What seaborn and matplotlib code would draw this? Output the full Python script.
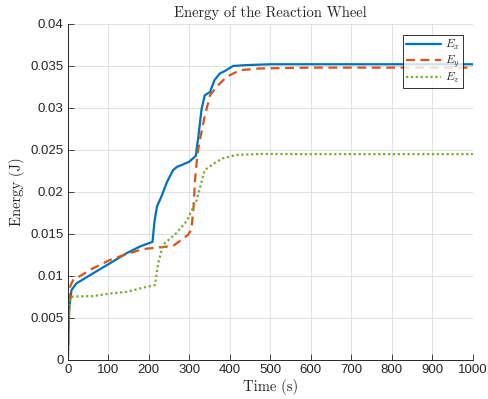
import pandas as pd
import seaborn as sns
import matplotlib.pyplot as plt

# energy of the reaction wheel

#------------- data
t_x = [0, 3, 9, 21, 62, 104, 145, 178, 209, 214, 220, 231, 245, 260, 270, 281, 300, 316, 322, 330, 338, 351, 362, 375, 388, 408, 441, 500, 700, 1000]
e_x = [0, 0.006, 0.0083, 0.0091, 0.0103, 0.0115, 0.0127, 0.0135, 0.01405, 0.0165, 0.01825, 0.01945, 0.0212, 0.0226, 0.0230, 0.0232, 0.0236, 0.0243, 0.0265, 0.0298, 0.0315, 0.0319, 0.0333, 0.0341, 0.0344, 0.035, 0.0351, 0.0352, 0.0352, 0.0352]

t_y = [0, 3, 6, 13, 62, 104, 145, 186, 227, 260, 297, 305, 310, 314, 320, 326, 338, 351, 367, 392, 425, 474, 600, 1000]
e_y = [0, 0.006, 0.0088, 0.0095, 0.0109, 0.0119, 0.0126, 0.0132, 0.0134, 0.01357, 0.0149, 0.0155, 0.018, 0.0214, 0.0245, 0.0262, 0.029, 0.0315, 0.0325, 0.0337, 0.0345, 0.0347, 0.0348, 0.0348]

t_z = [0, 3, 6, 13, 62, 104, 145, 186, 215, 219, 223, 235, 268, 293, 318, 338, 367, 383, 416, 474, 600, 1000]
e_z = [0, 0.005, 0.0074, 0.00754, 0.0076, 0.0079, 0.0081, 0.0086, 0.0089, 0.0102, 0.0115, 0.0137, 0.0151, 0.0165, 0.019, 0.0226, 0.0236, 0.024, 0.0244, 0.02452, 0.0245, 0.0245]

x_ticks = [0, 100, 200, 300, 400, 500, 600, 700, 800, 900, 1000]
y_ticks = [0, 0.005, 0.01, 0.015, 0.02, 0.025, 0.03, 0.035, 0.04]
y_tick_labels = ['0', '0.005', '0.01', '0.015', '0.02', '0.025', '0.03', '0.035', '0.04']

#------------- style
sns.set_theme(style='white')
plt.rcParams['font.family'] = ['Liberation Sans', 'DejaVu Sans']
plt.rcParams['mathtext.fontset'] = 'cm'

fig = plt.figure(figsize=(4.88, 3.99), dpi=100)
ax = fig.add_axes([0.139, 0.098, 0.83, 0.842])

df_x = pd.DataFrame({'t': t_x, 'E': e_x})
df_y = pd.DataFrame({'t': t_y, 'E': e_y})
df_z = pd.DataFrame({'t': t_z, 'E': e_z})

sns.lineplot(data=df_x, x='t', y='E', ax=ax, color='#0072BD', lw=1.6, label='$E_x$')
sns.lineplot(data=df_y, x='t', y='E', ax=ax, color='#D95319', lw=1.6, ls=(0, (4, 2.5)), label='$E_y$')
sns.lineplot(data=df_z, x='t', y='E', ax=ax, color='#77AC30', lw=1.6, ls=(0, (1, 1.2)), label='$E_z$')

#------------- axes
ax.set_xlim(0, 1000)
ax.set_ylim(0, 0.04)
ax.set_xticks(x_ticks)
ax.set_yticks(y_ticks)
ax.set_yticklabels(y_tick_labels)
ax.tick_params(direction='in', length=4, width=0.6, labelsize=9.5, colors='#262626',
               bottom=True, left=True, pad=3)
ax.grid(True, color='#dcdcdc', lw=0.6)
for s in ['top', 'right']:
    ax.spines[s].set_visible(False)
for s in ['left', 'bottom']:
    ax.spines[s].set_color('#262626')
    ax.spines[s].set_linewidth(0.7)

ax.set_title('Energy of the Reaction Wheel', family='cmr10', fontsize=10.5, pad=5)
ax.set_xlabel('Time (s)', family='cmr10', fontsize=10.5, labelpad=2)
ax.set_ylabel('Energy (J)', family='cmr10', fontsize=10.5, labelpad=4)

leg = ax.legend(loc='upper right', bbox_to_anchor=(0.975, 0.967), fontsize=8.5,
                frameon=True, fancybox=False, handlelength=3.0, borderaxespad=0,
                borderpad=0.25, labelspacing=0.1, handletextpad=0.3)
leg.get_frame().set_edgecolor('black')
leg.get_frame().set_linewidth(0.7)

fig.savefig('out.png', dpi=100)
